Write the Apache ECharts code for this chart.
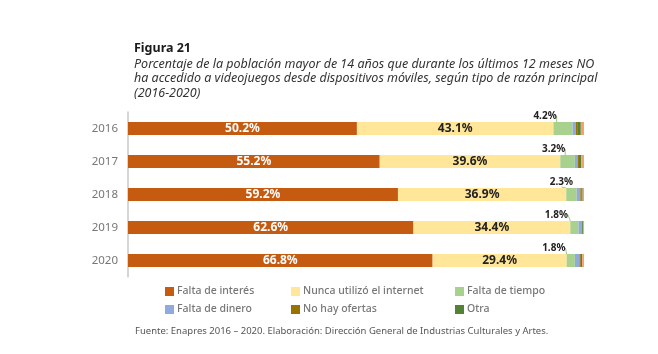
<!DOCTYPE html>
<html>
<head>
<meta charset="utf-8">
<script src="https://cdn.jsdelivr.net/npm/echarts@6/dist/echarts.min.js"></script>
<style>
  html, body { margin: 0; padding: 0; background: #fff; }
  #chart { width: 658px; height: 354px; }
</style>
</head>
<body>
<div id="chart"></div>
<script>
// años y valores (%) por razón principal
const years = ['2016', '2017', '2018', '2019', '2020'];
const faltaInteres = [50.2, 55.2, 59.2, 62.6, 66.8];
const nuncaInternet = [43.1, 39.6, 36.9, 34.4, 29.4];
const faltaTiempo = [4.2, 3.2, 2.3, 1.8, 1.8];
const faltaDinero = [0.7, 0.6, 0.8, 0.7, 1.0];
const noOfertas = [0.3, 0.3, 0.2, 0.1, 0.3];
const otra = [0.8, 0.5, 0.3, 0.2, 0.3];
const nsnc = [0.7, 0.6, 0.3, 0.2, 0.4];
// desplazamiento horizontal de las etiquetas de "Falta de tiempo"
const tiempoDx = [-18, -14, -10, -18, -17];

const font = 'Noto Sans';
const chart = echarts.init(document.getElementById('chart'));

const fmt = (p) => p.value.toFixed(1) + '%';

const seg = (name, data, color, label) => ({
  name: name,
  type: 'bar',
  stack: 'total',
  barWidth: 13,
  data: data,
  itemStyle: { color: color },
  label: label || { show: false },
  emphasis: { disabled: true }
});

const legendBase = {
  orient: 'vertical',
  itemWidth: 9,
  itemHeight: 9,
  itemGap: 7,
  icon: 'rect',
  textStyle: { fontFamily: font, fontSize: 10.5, color: '#777', fontWeight: 500, padding: [0, 0, 0, -2] }
};

const tiempoSeries = seg('Falta de tiempo', faltaTiempo, '#a9d18e', {
  show: true, position: 'top', distance: 2, formatter: fmt,
  fontFamily: font, fontSize: 10, fontWeight: 'bold', color: '#222'
});
tiempoSeries.labelLayout = (p) => ({ dx: tiempoDx[p.dataIndex], dy: 1 });
tiempoSeries.labelLine = { show: true, smooth: 0.3, lineStyle: { color: '#9cc982', width: 1 } };

chart.setOption({
  animation: false,
  title: [
    {
      text: 'Figura 21', left: 129, top: 37,
      textStyle: { fontFamily: font, fontSize: 12.5, fontWeight: 'bold', color: '#1a1a1a' }
    },
    {
      text: 'Porcentaje de la población mayor de 14 años que durante los últimos 12 meses NO\nha accedido a videojuegos desde dispositivos móviles, según tipo de razón principal\n(2016-2020)',
      left: 129, top: 52,
      textStyle: { fontFamily: font, fontSize: 12.5, fontStyle: 'italic', fontWeight: 'normal', color: '#333', lineHeight: 14.5 }
    },
    {
      text: 'Fuente: Enapres 2016 – 2020. Elaboración: Dirección General de Industrias Culturales y Artes.',
      left: 130, top: 321,
      textStyle: { fontFamily: font, fontSize: 9.5, fontWeight: 'normal', color: '#555' }
    }
  ],
  legend: [
    Object.assign({ left: 160, top: 281, data: ['Falta de interés', 'Falta de dinero'] }, legendBase),
    Object.assign({ left: 286, top: 281, data: ['Nunca utilizó el internet', 'No hay ofertas'] }, legendBase),
    Object.assign({ left: 450, top: 281, data: ['Falta de tiempo', 'Otra'] }, legendBase)
  ],
  grid: { left: 128, right: 74, top: 112, bottom: 77 },
  xAxis: {
    type: 'value', min: 0, max: 100, show: false
  },
  yAxis: {
    type: 'category',
    data: years,
    inverse: true,
    axisLine: { show: true, lineStyle: { color: '#c8c8c8', width: 1.5 } },
    axisTick: { show: false },
    axisLabel: { fontFamily: font, fontSize: 11.5, color: '#777', margin: 10 }
  },
  series: [
    seg('Falta de interés', faltaInteres, '#c55a11', {
      show: true, position: 'inside', formatter: fmt,
      fontFamily: font, fontSize: 12, fontWeight: 'bold', color: '#fff'
    }),
    seg('Nunca utilizó el internet', nuncaInternet, '#ffe699', {
      show: true, position: 'inside', formatter: fmt,
      fontFamily: font, fontSize: 12, fontWeight: 'bold', color: '#222'
    }),
    tiempoSeries,
    seg('Falta de dinero', faltaDinero, '#8faadc'),
    seg('No hay ofertas', noOfertas, '#997300'),
    seg('Otra', otra, '#548235'),
    seg('Ns/Nc', nsnc, '#f4a26b')
  ]
});
</script>
</body>
</html>
